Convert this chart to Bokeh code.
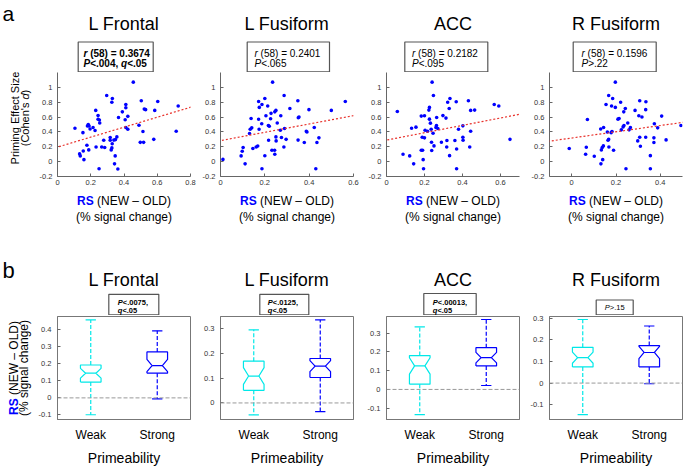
import math
from bokeh.plotting import figure
from bokeh.models import Slope, Span, FixedTicker, Range1d, Label
from bokeh.core.properties import value
from bokeh.layouts import row, column
from bokeh.embed import file_html
from bokeh.resources import INLINE

# ---------------- data ----------------
REGIONS = ["L Frontal", "L Fusiform", "ACC", "R Fusiform"]

LF_X = [0.456, 0.296, 0.330, 0.327, 0.504, 0.603, 0.411, 0.411, 0.726, 0.530, 0.522, 0.585, 0.230, 0.390, 0.244,
        0.423, 0.367, 0.244, 0.252, 0.407, 0.254, 0.185, 0.190, 0.180, 0.214, 0.105, 0.196, 0.226, 0.411, 0.423,
        0.490, 0.514, 0.153, 0.714, 0.357, 0.317, 0.349, 0.278, 0.317, 0.339, 0.579, 0.498, 0.518, 0.329, 0.177,
        0.232, 0.266, 0.284, 0.327, 0.323, 0.155, 0.188, 0.133, 0.137, 0.159, 0.347, 0.343, 0.250, 0.363]
LF_Y = [1.07, 0.89, 0.85, 0.80, 0.82, 0.81, 0.77, 0.725, 0.75, 0.70, 0.707, 0.69, 0.69, 0.67, 0.62,
        0.61, 0.595, 0.57, 0.56, 0.563, 0.52, 0.50, 0.48, 0.48, 0.46, 0.45, 0.44, 0.42, 0.46, 0.437,
        0.49, 0.405, 0.39, 0.41, 0.333, 0.324, 0.297, 0.288, 0.288, 0.29, 0.30, 0.26, 0.26, 0.24, 0.22,
        0.198, 0.198, 0.19, 0.185, 0.158, 0.144, 0.158, 0.104, 0.077, 0.027, 0.077, -0.03, -0.095, -0.10]

LFU_X = [0.235, 0.287, 0.200, 0.349, 0.172, 0.563, 0.187, 0.213, 0.175, 0.313, 0.399, 0.500, 0.250, 0.245, 0.228,
         0.205, 0.272, 0.354, 0.351, 0.138, 0.172, 0.226, 0.186, 0.256, 0.216, 0.220, 0.289, 0.174, 0.141, 0.134,
         0.270, 0.423, 0.387, 0.390, 0.131, 0.444, 0.250, 0.275, 0.296, 0.217, 0.251, 0.350, 0.378, 0.435, 0.286,
         0.168, 0.161, 0.102, 0.146, 0.098, 0.232, 0.244, 0.245, 0.200, 0.093, 0.011, 0.111, 0.187, 0.430]
LFU_Y = [1.07, 0.89, 0.85, 0.82, 0.81, 0.81, 0.77, 0.75, 0.73, 0.716, 0.70, 0.69, 0.69, 0.67, 0.65,
         0.617, 0.617, 0.60, 0.59, 0.58, 0.57, 0.577, 0.51, 0.52, 0.486, 0.477, 0.446, 0.437, 0.455, 0.437,
         0.423, 0.46, 0.41, 0.40, 0.378, 0.32, 0.333, 0.324, 0.30, 0.288, 0.279, 0.29, 0.257, 0.257, 0.198,
         0.21, 0.198, 0.19, 0.176, 0.14, 0.153, 0.153, 0.10, 0.08, 0.077, 0.03, -0.03, -0.095, -0.095]

ACC_X = [0.240, 0.247, 0.334, 0.431, 0.322, 0.367, 0.226, 0.223, 0.567, 0.591, 0.330, 0.464, 0.443, 0.057, 0.297,
         0.313, 0.183, 0.200, 0.264, 0.226, 0.231, 0.263, 0.260, 0.270, 0.132, 0.155, 0.379, 0.402, 0.235, 0.203,
         0.216, 0.245, 0.443, 0.188, 0.200, 0.402, 0.403, 0.360, 0.318, 0.289, 0.237, 0.650, 0.250, 0.317, 0.438,
         0.369, 0.183, 0.190, 0.238, 0.087, 0.122, 0.332, 0.193, 0.143, 0.195, 0.369]
ACC_Y = [1.07, 0.89, 0.85, 0.82, 0.80, 0.806, 0.73, 0.694, 0.77, 0.75, 0.716, 0.694, 0.69, 0.676, 0.62,
         0.586, 0.613, 0.617, 0.595, 0.572, 0.518, 0.486, 0.46, 0.446, 0.45, 0.464, 0.437, 0.482, 0.437, 0.423,
         0.41, 0.383, 0.41, 0.329, 0.32, 0.329, 0.288, 0.284, 0.284, 0.261, 0.261, 0.30, 0.212, 0.198, 0.198,
         0.171, 0.153, 0.153, 0.149, 0.10, 0.077, 0.081, 0.027, -0.03, -0.095, -0.095]

RF_X = [0.197, 0.167, 0.185, 0.307, 0.335, 0.221, 0.155, 0.180, 0.197, 0.242, 0.334, 0.286, 0.235, 0.303, 0.317,
        0.406, 0.214, 0.209, 0.071, 0.253, 0.373, 0.236, 0.232, 0.265, 0.144, 0.131, 0.493, 0.224, 0.259, 0.388,
        0.161, 0.182, 0.178, 0.307, 0.371, 0.334, 0.426, 0.167, 0.164, 0.298, 0.371, 0.310, 0.066, -0.011, 0.143,
        0.138, 0.168, 0.189, 0.134, 0.063, 0.102, 0.355, 0.140, 0.132, 0.245, 0.355]
RF_Y = [1.07, 0.89, 0.85, 0.82, 0.806, 0.80, 0.77, 0.75, 0.73, 0.716, 0.70, 0.69, 0.67, 0.617, 0.60,
        0.613, 0.58, 0.572, 0.568, 0.52, 0.51, 0.486, 0.468, 0.46, 0.46, 0.44, 0.486, 0.428, 0.428, 0.455,
        0.40, 0.405, 0.39, 0.329, 0.32, 0.329, 0.293, 0.30, 0.288, 0.279, 0.257, 0.207, 0.194, 0.176, 0.212,
        0.19, 0.198, 0.153, 0.158, 0.10, 0.072, 0.081, 0.027, -0.03, -0.095, -0.095]

SC_X = [LF_X, LFU_X, ACC_X, RF_X]
SC_Y = [LF_Y, LFU_Y, ACC_Y, RF_Y]
SC_XRANGE = [(0, 0.8), (0, 0.6), (0, 0.7), (-0.1, 0.5)]
SC_XTICKS = [[0, 0.2, 0.4, 0.6, 0.8], [0, 0.2, 0.4, 0.6], [0, 0.2, 0.4, 0.6], [0, 0.2, 0.4]]
SC_YRANGE = (-0.2, 1.2)
SC_YTICKS = [-0.2, 0, 0.2, 0.4, 0.6, 0.8, 1]
FIT_INTERCEPT = [0.196, 0.283, 0.29, 0.318]
FIT_SLOPE = [0.67, 0.56, 0.496, 0.42]
DF = 58
R_VALUES = ["0.3674", "0.2401", "0.2182", "0.1596"]
P_VALUES = ["<.004", "<.065", "<.095", ">.22"]
Q_VALUES = ["<.05", None, None, None]
SIG_BOLD = [True, False, False, False]

GROUPS = ["Weak", "Strong"]
WEAK_LO = [-0.099, -0.048, -0.134, -0.146]
WEAK_Q1 = [0.093, 0.051, 0.028, 0.075]
WEAK_MED = [0.145, 0.109, 0.125, 0.118]
WEAK_Q3 = [0.193, 0.169, 0.180, 0.166]
WEAK_HI = [0.458, 0.296, 0.333, 0.295]
STRONG_LO = [-0.006, -0.035, 0.021, -0.003]
STRONG_Q1 = [0.145, 0.103, 0.125, 0.075]
STRONG_MED = [0.190, 0.149, 0.169, 0.142]
STRONG_Q3 = [0.270, 0.180, 0.222, 0.174]
STRONG_HI = [0.394, 0.336, 0.372, 0.265]
N_PER_GROUP = 30
BX_YRANGE = [(-0.127, 0.478), (-0.067, 0.350), (-0.16, 0.388), (-0.169, 0.309)]
BX_YTICKS = [[-0.1, 0, 0.1, 0.2, 0.3, 0.4], [0, 0.1, 0.2, 0.3], [-0.1, 0, 0.1, 0.2, 0.3], [-0.1, 0, 0.1, 0.2, 0.3]]
BX_P = ["<.0075,", "<.0125,", "<.00013,", ">.15"]
BX_Q = ["<.05", "<.05", "<.05", None]

# ---------------- styling / layout ----------------
FONT = "Liberation Sans"
CYAN = "#00E8E8"
BLUE = "#0000FF"
RED = "#E8302A"
AXC = "#666666"
BLK = "#000000"
BASE_FIX = 0.32   # observed baseline drop of rendered text, in em

REG_W = {' ': 278, '(': 333, ')': 333, '=': 584, '.': 278, ',': 278, '<': 584, '>': 584, 'r': 333, 'P': 667,
         'q': 556, 'N': 722, 'E': 667, 'W': 944, 'O': 778, 'L': 556, 'D': 722, '\u2013': 556, '%': 889, 's': 500,
         'i': 222, 'g': 556, 'n': 556, 'a': 556, 'l': 222, 'c': 500, 'h': 556, 'e': 556, 'C': 722, 'o': 556,
         "'": 191, 'd': 556, 'R': 722, 'S': 667, 'm': 833, 'f': 278, 't': 278, 'z': 500}
BOLD_W = dict(REG_W)
BOLD_W.update({'r': 389, 'q': 611})


def tw(s, size, bold=False):
    t = BOLD_W if bold else REG_W
    return sum(t.get(ch, 556) for ch in s) * size / 1000.0


def fmt(v):
    return "%g" % v


TOTAL_W, TOTAL_H = 685, 466
LEFT_W = 34
RIGHT_W = TOTAL_W - LEFT_W
COLS = [dict(w=164, l=23, r=8), dict(w=165, l=22, r=10), dict(w=163, l=23, r=7), dict(w=159, l=23, r=3)]
FW = 133
FRAME_LEFT = [57, 220, 386, 549]
FRAME_CX = [fl + FW / 2.0 for fl in FRAME_LEFT]

H_TOPSTRIP = 72
H_SC = 118
SC_FH = 104
H_LAB = 45
H_BOTSTRIP = 80
H_BX = 129
BX_FH = 104
H_PRIM = 22


def strip(w, h, x0=0, flip=True):
    yr = Range1d(h, 0) if flip else Range1d(0, h)
    p = figure(width=w, height=h, x_range=Range1d(x0, x0 + w), y_range=yr, output_backend="svg",
               toolbar_location=None, title=None, x_axis_location=None, y_axis_location=None, min_border=0)
    p.outline_line_color = None
    p.grid.visible = False
    p.background_fill_color = "white"
    p.border_fill_color = "white"
    return p


def fstyle(bold, italic):
    return "bold italic" if (bold and italic) else ("bold" if bold else ("italic" if italic else "normal"))


def gtxt(p, x, y, t, size, bold=False, italic=False, color=BLK, align="left", flip=True):
    # y is the intended baseline (downward coords if flip, upward otherwise)
    yy = y - BASE_FIX * size if flip else y + BASE_FIX * size
    p.text(x=[x], y=[yy], text=[t], text_font=value(FONT), text_font_size=value("%.2fpx" % size),
           text_font_style=value(fstyle(bold, italic)), text_color=color, text_align=value(align),
           text_baseline=value("alphabetic"))


def runs_h(p, X, Y, runs, size, center=False):
    total = sum(tw(t, size, b) for t, b, i, c in runs)
    x = X - total / 2.0 if center else X
    for t, b, i, c in runs:
        lead = len(t) - len(t.lstrip(' '))
        gtxt(p, x + tw(' ' * lead, size, b), Y, t.strip(), size, b, i, c)
        x += tw(t, size, b)


def runs_v(p, h, X, Yc, runs, size):
    # vertical (bottom-to-top) text in an un-flipped strip of height h; Yc measured from top
    total = sum(tw(t, size, b) for t, b, i, c in runs)
    yup = h - (Yc + total / 2.0)
    for t, b, i, c in runs:
        lead = len(t) - len(t.lstrip(' '))
        p.add_layout(Label(x=X - BASE_FIX * size, y=yup + tw(' ' * lead, size, b), text=t.strip(),
                           angle=math.pi / 2, text_font=FONT, text_font_size="%.2fpx" % size,
                           text_font_style=fstyle(b, i), text_color=c, text_align="left",
                           text_baseline="alphabetic"))
        yup += tw(t, size, b)


def box(p, x0, x1, y0, y1, lw=1.2):
    p.quad(left=[x0], right=[x1], top=[y0], bottom=[y1], fill_color="white", line_color="#555555", line_width=lw)


def style_axis(ax, size="7.5px", standoff=4):
    ax.axis_line_color = AXC
    ax.major_tick_line_color = AXC
    ax.major_tick_in = 3
    ax.major_tick_out = 0
    ax.minor_tick_line_color = None
    ax.major_label_text_font = FONT
    ax.major_label_text_font_size = size
    ax.major_label_text_color = "#333333"
    ax.major_label_standoff = standoff


# ---------------- left strip: panel letters and rotated y labels ----------------
left = strip(LEFT_W, TOTAL_H, flip=False)
gtxt(left, 2, TOTAL_H - 19.5, "a", 21, flip=False)
gtxt(left, 2, TOTAL_H - 277, "b", 22, flip=False)
runs_v(left, TOTAL_H, 18.5, 117.5, [("Priming Effect Size", False, False, BLK)], 11)
runs_v(left, TOTAL_H, 28.5, 117.5, [("(Cohen's ", False, False, BLK), ("d", False, True, BLK),
                                    (")", False, False, BLK)], 11)
runs_v(left, TOTAL_H, 17, 367.5, [("RS", True, False, BLUE), (" (NEW \u2013 OLD)", False, False, BLK)], 12)
runs_v(left, TOTAL_H, 27, 367.5, [("(% signal change)", False, False, BLK)], 12)

# ---------------- top strip: titles, stat boxes ----------------
top_strip = strip(RIGHT_W, H_TOPSTRIP, x0=LEFT_W)
STAT_BOX = [(77.7, 152.7), (246.7, 329), (404.3, 487.3), (572.7, 655.7)]
STAT_TX = [83, 254, 411.5, 581]
for k in range(4):
    gtxt(top_strip, FRAME_CX[k], 29.3, REGIONS[k], 18, align="center")
    box(top_strip, STAT_BOX[k][0], STAT_BOX[k][1], 41.5, 71.4)
    b = SIG_BOLD[k]
    runs_h(top_strip, STAT_TX[k], 56, [("r", b, True, BLK), (" (%d) = %s" % (DF, R_VALUES[k]), b, False, BLK)], 10)
    line2 = [("P", b, True, BLK), (P_VALUES[k] + (", " if Q_VALUES[k] else ""), b, False, BLK)]
    if Q_VALUES[k]:
        line2 += [("q", b, True, BLK), (Q_VALUES[k], b, False, BLK)]
    runs_h(top_strip, STAT_TX[k], 66.3, line2, 10)

# ---------------- scatter row ----------------
scat = []
for k in range(4):
    c = COLS[k]
    p = figure(width=c["w"], height=H_SC, x_range=Range1d(*SC_XRANGE[k]), y_range=Range1d(*SC_YRANGE),
               output_backend="svg", toolbar_location=None, title=None,
               min_border_left=c["l"], min_border_right=c["r"], min_border_top=0,
               min_border_bottom=H_SC - SC_FH)
    p.outline_line_color = None
    p.grid.visible = False
    p.background_fill_color = "white"
    p.border_fill_color = "white"
    p.xaxis.ticker = FixedTicker(ticks=SC_XTICKS[k])
    p.xaxis.major_label_overrides = {t: fmt(t) for t in SC_XTICKS[k]}
    p.yaxis.ticker = FixedTicker(ticks=SC_YTICKS)
    p.yaxis.major_label_overrides = {t: fmt(t) for t in SC_YTICKS}
    style_axis(p.xaxis[0], standoff=3)
    style_axis(p.yaxis[0], standoff=5)
    p.scatter(SC_X[k], SC_Y[k], marker="circle", size=3.6, fill_color=BLUE, line_color=None)
    p.add_layout(Slope(gradient=FIT_SLOPE[k], y_intercept=FIT_INTERCEPT[k], line_color=RED,
                       line_dash="2 2", line_width=1.2))
    scat.append(p)

# ---------------- x-label strip for scatter ----------------
lab_strip = strip(RIGHT_W, H_LAB, x0=LEFT_W)
for k in range(4):
    runs_h(lab_strip, FRAME_CX[k], 14.5, [("RS", True, False, BLUE), (" (NEW \u2013 OLD)", False, False, BLK)], 12,
           center=True)
    runs_h(lab_strip, FRAME_CX[k], 30, [("(% signal change)", False, False, BLK)], 12, center=True)

# ---------------- bottom strip: titles, P boxes ----------------
bot_strip = strip(RIGHT_W, H_BOTSTRIP, x0=LEFT_W)
PBOX = [(108.3, 158.3, 58.8), (259.3, 308.3, 58.8), (423.3, 475.7, 58.0), (595.7, 632.7, 64.5)]
PBOX_TX = [117.3, 267.3, 432.3, None]
for k in range(4):
    gtxt(bot_strip, FRAME_CX[k], 50, REGIONS[k], 18, align="center")
    x0, x1, y0 = PBOX[k]
    box(bot_strip, x0, x1, y0, 79.4)
    if BX_Q[k]:
        runs_h(bot_strip, PBOX_TX[k], 69.2, [("P", True, True, BLK), (BX_P[k], True, False, BLK)], 7.5)
        runs_h(bot_strip, PBOX_TX[k], 77.2, [("q", True, True, BLK), (BX_Q[k], True, False, BLK)], 7.5)
    else:
        runs_h(bot_strip, (x0 + x1) / 2.0, 74.8, [("P", False, True, BLK), (BX_P[k], False, False, BLK)], 7.5,
               center=True)

# ---------------- box-plot row ----------------
BW = 0.31


def notch_poly(cx, q1, med, q3, n):
    nh = 1.57 * (q3 - q1) / math.sqrt(n)
    lo, hi = med - nh, med + nh
    L, R, l, r = cx - BW / 2, cx + BW / 2, cx - BW / 4, cx + BW / 4
    return [L, R, R, r, R, R, L, L, l, L, L], [q1, q1, lo, med, hi, q3, q3, hi, med, lo, q1]


boxes = []
for k in range(4):
    c = COLS[k]
    p = figure(width=c["w"], height=H_BX, x_range=Range1d(0.5, 2.5), y_range=Range1d(*BX_YRANGE[k]),
               output_backend="svg", toolbar_location=None, title=None,
               min_border_left=c["l"], min_border_right=c["r"], min_border_top=1,
               min_border_bottom=H_BX - BX_FH - 1)
    p.outline_line_color = "#777777"
    p.outline_line_width = 1
    p.grid.visible = False
    p.background_fill_color = "white"
    p.border_fill_color = "white"
    pos = list(range(1, len(GROUPS) + 1))
    p.xaxis.ticker = FixedTicker(ticks=pos)
    p.xaxis.major_label_overrides = {i: g for i, g in zip(pos, GROUPS)}
    style_axis(p.xaxis[0], size="12px", standoff=8)
    p.xaxis.major_label_text_color = BLK
    p.xaxis.major_tick_in = 0
    p.yaxis.ticker = FixedTicker(ticks=BX_YTICKS[k])
    p.yaxis.major_label_overrides = {t: fmt(t) for t in BX_YTICKS[k]}
    style_axis(p.yaxis[0], size="7.5px", standoff=6)
    p.xaxis.axis_line_color = "#777777"
    p.yaxis.axis_line_color = "#777777"

    p.add_layout(Span(location=0, dimension="width", line_color="#999999", line_dash="4 2", line_width=1))

    stats = [(WEAK_LO[k], WEAK_Q1[k], WEAK_MED[k], WEAK_Q3[k], WEAK_HI[k], CYAN),
             (STRONG_LO[k], STRONG_Q1[k], STRONG_MED[k], STRONG_Q3[k], STRONG_HI[k], BLUE)]
    for cx, (lo, q1, med, q3, hi, col) in zip(pos, stats):
        xs, ys = notch_poly(cx, q1, med, q3, N_PER_GROUP)
        p.segment(x0=[cx, cx], y0=[q3, q1], x1=[cx, cx], y1=[hi, lo], line_color=col, line_dash="4 2",
                  line_width=1.2)
        p.line(xs, ys, line_color=col, line_width=1.2)
        p.segment(x0=[cx - BW / 4], y0=[med], x1=[cx + BW / 4], y1=[med], line_color=col, line_width=1.2)
        p.segment(x0=[cx - BW / 4, cx - BW / 4], y0=[hi, lo], x1=[cx + BW / 4, cx + BW / 4], y1=[hi, lo],
                  line_color=col, line_width=1.2)
    boxes.append(p)

# ---------------- x-axis title strip for box plots ----------------
prim_strip = strip(RIGHT_W, H_PRIM, x0=LEFT_W)
for k in range(4):
    gtxt(prim_strip, FRAME_CX[k], 17.5, "Primeability", 14, align="center")

right = column(top_strip, row(*scat), lab_strip, bot_strip, row(*boxes), prim_strip)
layout = row(left, right)
open("out.html", "w").write(file_html(layout, INLINE))
